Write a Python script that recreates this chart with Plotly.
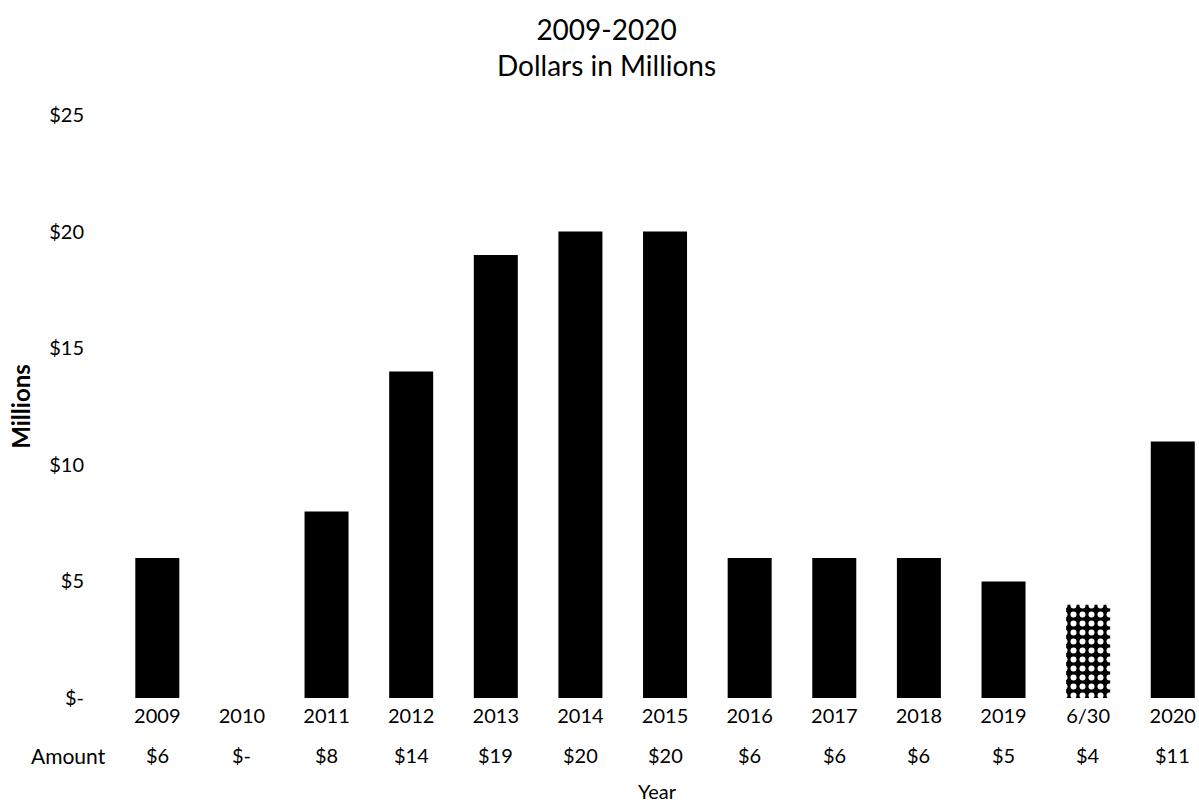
import plotly.graph_objects as go

# Annual amounts, dollars in millions
years = ["2009", "2010", "2011", "2012", "2013", "2014", "2015",
         "2016", "2017", "2018", "2019", "6/30", "2020"]
amounts = [6, 0, 8, 14, 19, 20, 20, 6, 6, 6, 5, 4, 11]
amount_labels = ["$6", "$-", "$8", "$14", "$19", "$20", "$20",
                 "$6", "$6", "$6", "$5", "$4", "$11"]
y_ticks = [0, 5, 10, 15, 20, 25]
y_tick_labels = ["$-", "$5", "$10", "$15", "$20", "$25"]

FONT = "Lato"
W, H = 1199, 806
L, R, T, B = 115, 0, 115, 108

# the partial-year bar gets a dotted fill
shapes = ["" if y != "6/30" else "." for y in years]

fig = go.Figure(go.Bar(
    x=years,
    y=amounts,
    width=0.52,
    marker=dict(
        color="black",
        line=dict(width=0),
        pattern=dict(shape=shapes, fgcolor="white", bgcolor="black",
                     size=9, solidity=0.35, fillmode="replace"),
    ),
    hoverinfo="x+y",
))

annotations = [
    dict(text="2009-2020<br>Dollars in Millions", x=0.453, y=1.0,
         xref="paper", yref="paper", xanchor="center", yanchor="bottom",
         yshift=31, showarrow=False, align="center",
         font=dict(family=FONT, size=28, color="black")),
    dict(text="Amount", x=0, y=0, xref="paper", yref="paper",
         xanchor="center", yanchor="middle", xshift=-47, yshift=-57,
         showarrow=False, font=dict(family=FONT, size=21, color="black")),
    dict(text="Year", x=0.5, y=0, xref="paper", yref="paper",
         xanchor="center", yanchor="bottom", yshift=-107,
         showarrow=False, font=dict(family=FONT, size=20, color="black")),
]
# data-table row beneath the year labels
for i, lab in enumerate(amount_labels):
    annotations.append(dict(
        text=lab, x=i, y=0, xref="x", yref="paper",
        xanchor="center", yanchor="middle", yshift=-57,
        showarrow=False, font=dict(family=FONT, size=20, color="black")))

fig.update_layout(
    width=W, height=H,
    margin=dict(l=L, r=R, t=T, b=B),
    paper_bgcolor="white", plot_bgcolor="white",
    showlegend=False,
    bargap=0.48,
    font=dict(family=FONT, size=20, color="black"),
    annotations=annotations,
    xaxis=dict(
        type="category",
        range=[-0.5, 12.31],
        showgrid=False, showline=False, zeroline=False,
        ticks="", ticklabelstandoff=4,
        tickfont=dict(family=FONT, size=20, color="black"),
    ),
    yaxis=dict(
        range=[0, 25],
        tickvals=y_ticks, ticktext=y_tick_labels,
        showgrid=False, showline=False, zeroline=False,
        ticks="", ticklabelstandoff=30,
        tickfont=dict(family=FONT, size=20, color="black"),
        title=dict(text="<b>Millions</b>", standoff=11,
                   font=dict(family=FONT, size=24, color="black")),
    ),
)

fig.write_html("out.html")
